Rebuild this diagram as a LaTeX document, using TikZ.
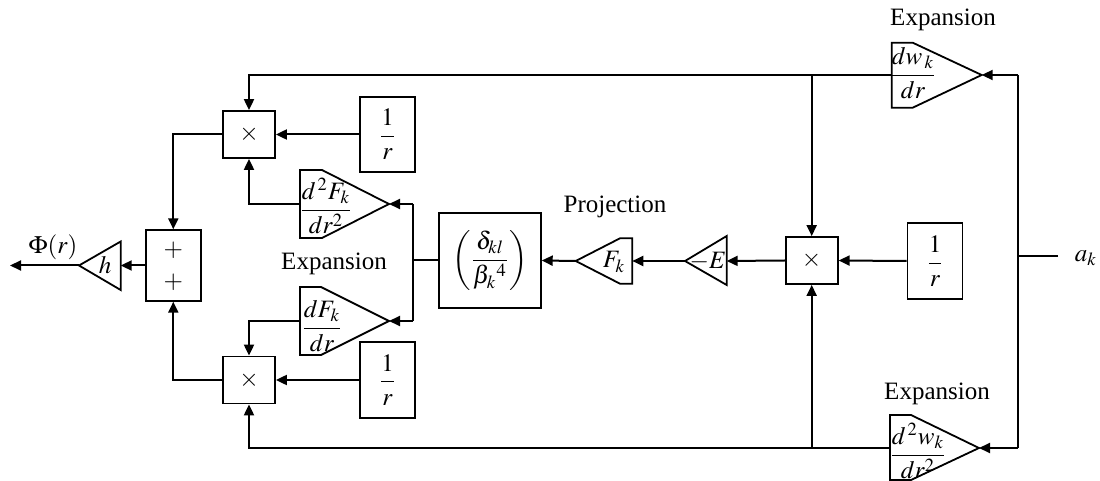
\documentclass[tikz,border=0pt]{standalone}
\usepackage{amsmath}
\usepackage{mathptmx}
\usepackage[no-math]{fontspec}
\setmainfont{Liberation Serif}
\usetikzlibrary{arrows.meta}
\begin{document}
\begin{tikzpicture}[x=0.5pt,y=-0.5pt,font=\fontsize{12.5}{15}\selectfont,
  wire/.style={line width=1pt},
  arr/.style={wire,-{Triangle[length=5.5pt,width=5pt]}},
  blk/.style={draw,line width=0.9pt,inner sep=0pt},
  mul/.style={blk,minimum width=26pt,minimum height=23.5pt},
  recip/.style={blk,minimum width=27.5pt,minimum height=37.8pt},
  tri/.style={draw,line width=0.9pt,fill=white,line join=miter},
  lbl/.style={inner sep=0pt}]
\useasboundingbox (0,0) rectangle (1100,481);

% boxes
\node[mul] (mulT) at (249,134.5) {$\times$};
\node[mul] (mulB) at (249,380) {$\times$};
\node[mul] (mulC) at (811.7,260.5) {$\times$};
\node[blk,minimum width=27.3pt,minimum height=35.3pt] (sum) at (173.3,265.5) {};
\node[lbl] (plus1) at (173.3,250) {$+$};
\node[lbl] (plus2) at (173.3,282) {$+$};
\node[recip] (rT) at (387.5,134.5) {$\dfrac{1}{r}$};
\node[recip] (rB) at (387.5,380) {$\dfrac{1}{r}$};
\node[recip] (rC) at (935,261) {$\dfrac{1}{r}$};
\node[blk,minimum width=50.8pt,minimum height=47.7pt] (delta) at (490,260.5)
  {$\left(\dfrac{\delta_{kl}}{\beta_k{}^4}\right)$};

% triangles
\draw[tri] (300,170) -- (322,170) -- (389,204) -- (322,238) -- (300,238) -- cycle;
\coordinate (ddFtip) at (389,204); \coordinate (ddFin) at (300,204);
\node[lbl] (ddFtxt) at (326,206) {$\dfrac{d^{\,2}F_k}{dr^2}$};

\draw[tri] (300,287) -- (321,287) -- (389,321) -- (321,355) -- (300,355) -- cycle;
\coordinate (dFtip) at (389,321); \coordinate (dFin) at (300,321);
\node[lbl] (dFtxt) at (322,326) {$\dfrac{dF_k}{dr}$};

\draw[tri] (891.7,42.7) -- (912.7,42.7) -- (981.7,75) -- (912.7,107.7) -- (891.7,107.7) -- cycle;
\coordinate (dwtip) at (981.7,75); \coordinate (dwin) at (891.7,75);
\node[lbl] (dwtxt) at (913,73) {$\dfrac{dw_{\,k}}{dr}$};

\draw[tri] (890,415) -- (911,415) -- (979,448) -- (911,480) -- (890,480) -- cycle;
\coordinate (ddwtip) at (979,448); \coordinate (ddwin) at (890,448);
\node[lbl] (ddwtxt) at (918,451) {$\dfrac{d^{\,2}w_k}{dr^2}$};

\draw[tri] (575.7,261) -- (620,238.3) -- (632.3,238.3) -- (632.3,283.7) -- (620,283.7) -- cycle;
\coordinate (Fktip) at (575.7,261); \coordinate (Fkin) at (632.3,261);
\node[lbl] (Fktxt) at (614,262) {$F_k$};

\draw[tri] (685,261) -- (726.7,236) -- (726.7,285) -- cycle;
\coordinate (mEtip) at (685,261); \coordinate (mEin) at (726.7,261);
\node[lbl] (mEtxt) at (708,261) {$-E$};

\draw[tri] (79,265.5) -- (120.7,241.5) -- (120.7,290) -- cycle;
\coordinate (htip) at (79,265.5); \coordinate (hin) at (120.7,265.5);
\node[lbl] (htxt) at (105,265.5) {$h$};

% labels
\node[lbl] (phi) at (53,247) {$\Phi(r)$};
\coordinate (out) at (10,265.5);
\node[lbl] (ak) at (1086,258) {$a_k$};
\coordinate (in) at (1058,256);
\node[lbl] (proj) at (615,207) {Projection};
\node[lbl] (expL) at (334,264) {Expansion};
\node[lbl] (expT) at (943,20) {Expansion};
\node[lbl] (expB) at (937,394) {Expansion};

% junction coordinates
\coordinate (rj1) at (1018,75);
\coordinate (rj2) at (1018,448);
\coordinate (rj3) at (1018,256);
\coordinate (tj) at (811.7,75);
\coordinate (bj) at (811.7,448);
\coordinate (dj1) at (413,204);
\coordinate (dj2) at (413,321);
\coordinate (dj3) at (413,260.5);

% wires
\draw[wire] (in) -- (rj3);
\draw[wire] (rj1) -- (rj2);
\draw[arr] (rj1) -- (dwtip);
\draw[arr] (rj2) -- (ddwtip);
\draw[arr] (dwin) -- (249,75) -- (mulT.north);
\draw[arr] (tj) -- (mulC.north);
\draw[arr] (ddwin) -- (249,448) -- (mulB.south);
\draw[arr] (bj) -- (mulC.south);
\draw[arr] (rC.west) -- (mulC.east);
\draw[arr] (mulC.west) -- (mEin);
\draw[arr] (mEtip) -- (Fkin);
\draw[arr] (Fktip) -- (delta.east);
\draw[wire] (delta.west) -- (dj3);
\draw[wire] (dj1) -- (dj2);
\draw[arr] (dj1) -- (ddFtip);
\draw[arr] (dj2) -- (dFtip);
\draw[arr] (ddFin) -- (249,204) -- (mulT.south);
\draw[arr] (dFin) -- (249,321) -- (mulB.north);
\draw[arr] (rT.west) -- (mulT.east);
\draw[arr] (rB.west) -- (mulB.east);
\draw[arr] (mulT.west) -- (173.3,134.5) -- (sum.north);
\draw[arr] (mulB.west) -- (173.3,380) -- (sum.south);
\draw[arr] (sum.west) -- (hin);
\draw[arr] (htip) -- (out);
\end{tikzpicture}
\end{document}
